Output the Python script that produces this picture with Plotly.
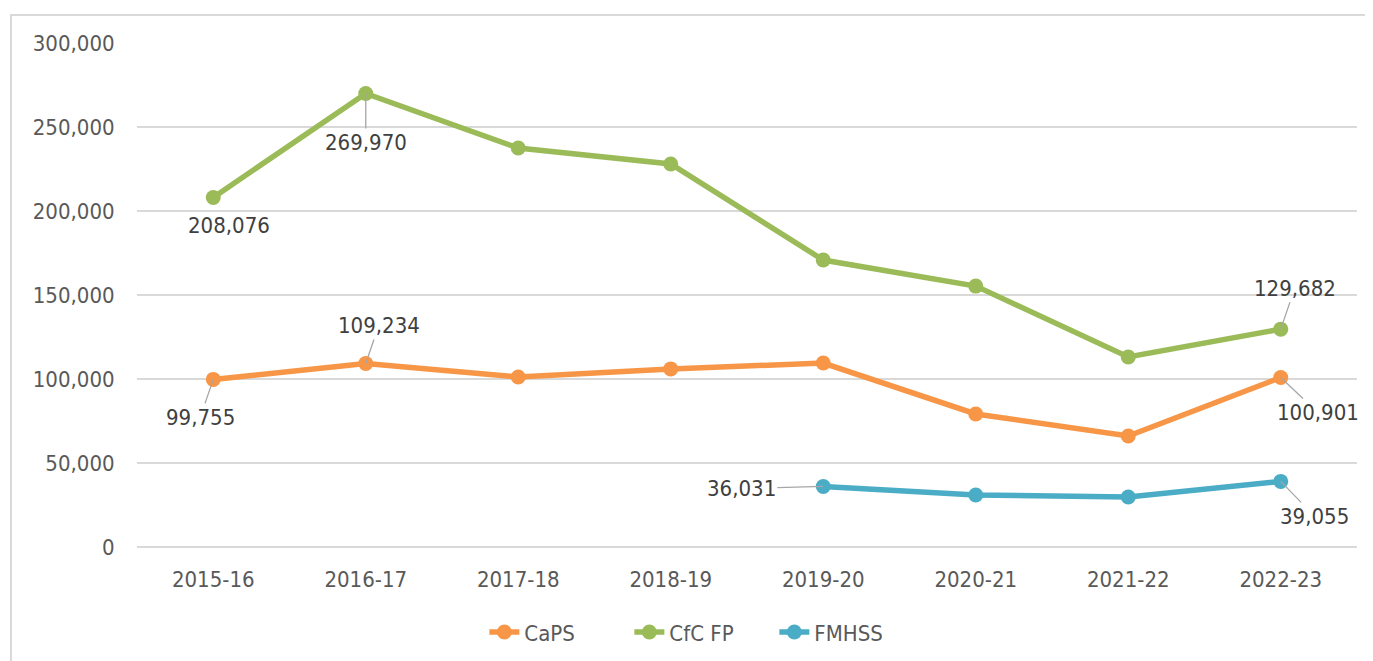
import plotly.graph_objects as go

categories = ["2015-16", "2016-17", "2017-18", "2018-19", "2019-20", "2020-21", "2021-22", "2022-23"]
caps = [99755, 109234, 101200, 106000, 109500, 79200, 66100, 100901]
cfc_fp = [208076, 269970, 237500, 228000, 170800, 155300, 113100, 129682]
fmhss = [None, None, None, None, 36031, 30950, 29800, 39055]

series_names = ["CaPS", "CfC FP", "FMHSS"]
series_colors = ["#F79646", "#9BBB59", "#4BACC6"]

# labelled points: (series index, category index, x offset px, y offset px, leader line shown)
labels = [
    (1, 0, 16, 28, False), (1, 1, 0, 49, True), (1, 7, 14, -41, True),
    (0, 0, -13, 38, True), (0, 1, 13, -38, True), (0, 7, 37, 35, True),
    (2, 4, -82, 2, True), (2, 7, 34, 35, True),
]

all_series = [caps, cfc_fp, fmhss]
font_family = "DejaVu Sans Condensed, DejaVu Sans, sans-serif"
text_color = "#404040"
FS = 22

fig = go.Figure()
for name, vals, col in zip(series_names, all_series, series_colors):
    fig.add_trace(go.Scatter(
        x=categories, y=vals, name=name, mode="lines+markers",
        line=dict(color=col, width=5.5), marker=dict(color=col, size=15),
        connectgaps=False,
    ))

annotations = []
for si, ci, ax, ay, leader in labels:
    v = all_series[si][ci]
    annotations.append(dict(
        x=categories[ci], y=v, xref="x", yref="y",
        text=f"{v:,}", showarrow=True, arrowhead=0, arrowwidth=1.3,
        arrowcolor="#A6A6A6" if leader else "rgba(0,0,0,0)", ax=ax, ay=ay, standoff=0,
        font=dict(size=FS, color=text_color, family=font_family),
    ))

# page body adds an 8px offset; figure is taller than the window so the legend never pushes the margin
fig.update_layout(
    width=1365, height=720,
    margin=dict(l=129, r=16, t=35, b=181),
    paper_bgcolor="white", plot_bgcolor="white",
    font=dict(family=font_family, size=FS, color="#595959"),
    showlegend=True,
    legend=dict(orientation="h", x=0.463, xanchor="center", y=-0.169, yanchor="middle",
                font=dict(size=FS, color="#595959"), tracegroupgap=0,
                entrywidth=100, entrywidthmode="pixels"),
    annotations=annotations,
    shapes=[dict(type="rect", xref="paper", yref="paper",
                 x0=(11 - 137) / 1220, x1=1.2, y0=-0.6, y1=1 + (43 - 15) / 504,
                 line=dict(color="#D9D9D9", width=2), layer="below")],
)
fig.update_xaxes(
    type="category", range=[-0.5, 7.5], showgrid=False, showline=False,
    zeroline=False, ticks="outside", ticklen=13, tickcolor="rgba(0,0,0,0)",
    tickfont=dict(size=FS, color="#595959"),
)
fig.update_yaxes(
    range=[0, 300000], dtick=50000, tickformat=",", showgrid=True,
    gridcolor="#D9D9D9", gridwidth=1.5, zeroline=True, zerolinecolor="#D9D9D9",
    zerolinewidth=1.5, showline=False, ticks="outside", ticklen=17,
    tickcolor="rgba(0,0,0,0)", tickfont=dict(size=FS, color="#595959"),
)

fig.write_html("out.html")
